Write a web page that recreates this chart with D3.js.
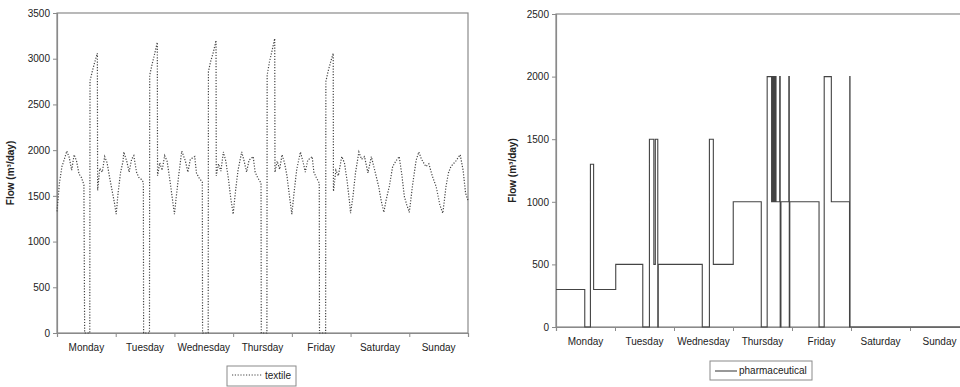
<!DOCTYPE html>
<html>
<head>
<meta charset="utf-8">
<script src="https://cdn.jsdelivr.net/npm/d3@7"></script>
<style>
  body { margin: 0; background: #fff; }
  svg text { font-family: "Liberation Sans", Arial, sans-serif; fill: #222; }
</style>
</head>
<body>
<svg id="chart" width="960" height="387"></svg>
<script>
var days = ["Monday", "Tuesday", "Wednesday", "Thursday", "Friday", "Saturday", "Sunday"];
var textileTicks = [0, 500, 1000, 1500, 2000, 2500, 3000, 3500];
var pharmaTicks = [0, 500, 1000, 1500, 2000, 2500];

// [hour of week, flow m3/day]
var textile = [
  [0,1330],[1,1640],[2,1820],[3,1900],[4,1990],[5,1920],[6,1780],[7,1950],[8,1880],[9,1740],[10,1700],[11,1620],[11.3,0],[13.4,0],[13.5,2760],[14.5,2870],[15.5,2970],[16.5,3060],[16.6,1560],[17.5,1800],[18.5,1760],[19.5,1930],[20.5,1860],[21.5,1700],[22.5,1560],[23.5,1420],
  [24.2,1300],[25,1540],[26,1760],[27,1880],[27.3,1980],[28.5,1880],[29.5,1760],[30.5,1900],[31.4,1940],[32.5,1760],[33.5,1700],[34.5,1680],[35.3,1650],[35.4,0],[37.8,0],[37.9,2820],[38.8,2930],[39.8,3040],[41,3180],[41.1,1720],[42,1860],[43,1780],[44,1940],[45,1880],[46,1700],[47,1500],
  [48,1300],[49,1550],[50,1780],[51,1990],[52.5,1880],[53.5,1760],[54.5,1900],[56.3,1930],[57,1750],[58,1700],[59.4,1650],[59.5,0],[61.8,0],[61.9,2860],[62.8,2970],[64,3080],[65,3200],[65.1,1720],[66,1850],[67,1770],[68,1980],[69,1880],[70,1700],[71,1480],
  [72,1300],[73,1560],[74,1780],[75.5,1980],[76.5,1880],[77.5,1760],[78.5,1890],[80.2,1930],[81,1760],[82,1700],[83.4,1640],[83.5,0],[85.8,0],[85.9,2820],[86.8,2960],[88,3100],[89,3220],[89.1,1760],[90,1880],[91,1790],[92,1950],[93,1860],[94,1720],[95,1500],
  [96,1300],[97,1560],[98,1790],[99.5,1980],[100.5,1880],[101.5,1760],[102.5,1890],[104.3,1930],[105,1760],[106,1700],[107.2,1640],[107.3,0],[109.8,0],[109.9,2750],[110.8,2860],[111.8,2960],[112.9,3060],[113,1550],[114,1780],[115,1720],[116.4,1930],[117.5,1860],[118.5,1680],[119.5,1450],
  [120,1310],[121,1500],[122,1750],[123.4,1980],[124.5,1900],[125.7,1930],[127.1,1750],[128.5,1930],[130.5,1710],[131.5,1600],[132.5,1450],[133.6,1320],[134.5,1450],[135.8,1600],[137.2,1820],[138.5,1880],[139.9,1930],[141,1720],[142,1490],[143,1400],
  [144,1320],[145.5,1650],[146.8,1890],[147.9,1980],[149,1900],[150.8,1820],[152,1850],[153.5,1710],[155,1600],[156.5,1400],[157.7,1310],[159,1600],[160,1750],[161,1820],[163,1880],[164.8,1950],[166,1780],[167,1530],[168,1450]
];

// step series: [hour of week, flow m3/day], value holds until next point
var pharma = [
  [0,300],[11.7,0],[14.0,1300],[15.3,300],[24.3,500],[35.3,0],[38.0,1500],[39.8,500],[40.4,1500],[41.4,0],[41.6,500],
  [59.5,0],[62.4,1500],[64.0,500],[72.1,1000],[83.5,0],[85.9,2000],[87.7,1000],[88.0,2000],[88.4,1000],[88.7,2000],[89.1,1000],[89.4,2000],[89.5,1000],
  [91.0,2000],[91.2,0],[91.5,1000],[94.7,2000],[94.9,0],[95.1,1000],[107.0,0],[109.1,2000],[112.0,1000],[119.4,0],[119.5,2000],[119.6,0],[168,0]
];

var svg = d3.select("#chart");
var axisColor = "#8a8a8a";
var lineColor = "#444";

var drawPanel = function(opt) {
  var g = svg.append("g").attr("transform", "translate(" + opt.left + "," + opt.top + ")");
  var x = d3.scaleLinear().domain([0, 168]).range([0, opt.width]);
  var y = d3.scaleLinear().domain([0, opt.max]).range([opt.height, 0]);

  // frame
  g.append("rect")
    .attr("x", 0).attr("y", 0)
    .attr("width", opt.width).attr("height", opt.height)
    .attr("fill", "none").attr("stroke", axisColor).attr("stroke-width", 1.2);

  var yAxis = d3.axisLeft(y).tickValues(opt.ticks).tickSize(4).tickPadding(3).tickFormat(d3.format("d"));
  var gy = g.append("g").call(yAxis);
  gy.select(".domain").attr("stroke", axisColor).attr("stroke-width", 1.2);
  gy.selectAll(".tick line").attr("stroke", axisColor);
  gy.selectAll(".tick text").attr("font-size", 10).attr("fill", "#222")
    .attr("font-family", "Liberation Sans, Arial, sans-serif");

  var xAxis = d3.axisBottom(x).tickValues(d3.range(0, 169, 24)).tickSize(4).tickFormat("");
  var gx = g.append("g").attr("transform", "translate(0," + opt.height + ")").call(xAxis);
  gx.select(".domain").attr("stroke", axisColor).attr("stroke-width", 1.2);
  gx.selectAll(".tick line").attr("stroke", axisColor);

  g.selectAll(".dayLabel")
    .data(days)
    .enter().append("text")
    .attr("class", "dayLabel")
    .attr("x", function(d, i) { return x(i * 24 + 12); })
    .attr("y", opt.height + 18)
    .attr("text-anchor", "middle")
    .attr("font-size", 10)
    .text(function(d) { return d; });

  g.append("text")
    .attr("transform", "translate(" + opt.titleX + "," + (opt.height / 2) + ") rotate(-90)")
    .attr("text-anchor", "middle")
    .attr("font-size", 10)
    .attr("font-weight", "bold")
    .text("Flow (m\u00b3/day)");

  return {g: g, x: x, y: y};
};

// left panel: textile
var p1 = drawPanel({left: 57, top: 13, width: 411, height: 320, max: 3500, ticks: textileTicks, titleX: -43});
p1.g.append("path")
  .datum(textile)
  .attr("fill", "none")
  .attr("stroke", lineColor).attr("stroke-width", 1.2)
  .attr("stroke-dasharray", "1.2,1.6")
  .attr("d", d3.line()
    .x(function(d) { return p1.x(d[0]); })
    .y(function(d) { return p1.y(d[1]); }));

// right panel: pharmaceutical
var p2 = drawPanel({left: 556, top: 14, width: 413, height: 313, max: 2500, ticks: pharmaTicks, titleX: -40});
p2.g.append("path")
  .datum(pharma)
  .attr("fill", "none")
  .attr("stroke", lineColor).attr("stroke-width", 1.1)
  .attr("d", d3.line()
    .curve(d3.curveStepAfter)
    .x(function(d) { return p2.x(d[0]); })
    .y(function(d) { return p2.y(d[1]); }));

// legends
var leg1 = svg.append("g").attr("transform", "translate(227,366)");
leg1.append("rect").attr("width", 69).attr("height", 20)
  .attr("fill", "#fff").attr("stroke", axisColor).attr("stroke-width", 1);
leg1.append("line").attr("x1", 5).attr("x2", 35).attr("y1", 9).attr("y2", 9)
  .attr("stroke", lineColor).attr("stroke-width", 1.2).attr("stroke-dasharray", "1.2,1.6");
leg1.append("text").attr("x", 38).attr("y", 13).attr("font-size", 10).text("textile");

var leg2 = svg.append("g").attr("transform", "translate(710,361)");
leg2.append("rect").attr("width", 102).attr("height", 19)
  .attr("fill", "#fff").attr("stroke", axisColor).attr("stroke-width", 1);
leg2.append("line").attr("x1", 5).attr("x2", 27).attr("y1", 10).attr("y2", 10)
  .attr("stroke", lineColor).attr("stroke-width", 1.1);
leg2.append("text").attr("x", 29).attr("y", 13).attr("font-size", 10).text("pharmaceutical");
</script>
</body>
</html>
